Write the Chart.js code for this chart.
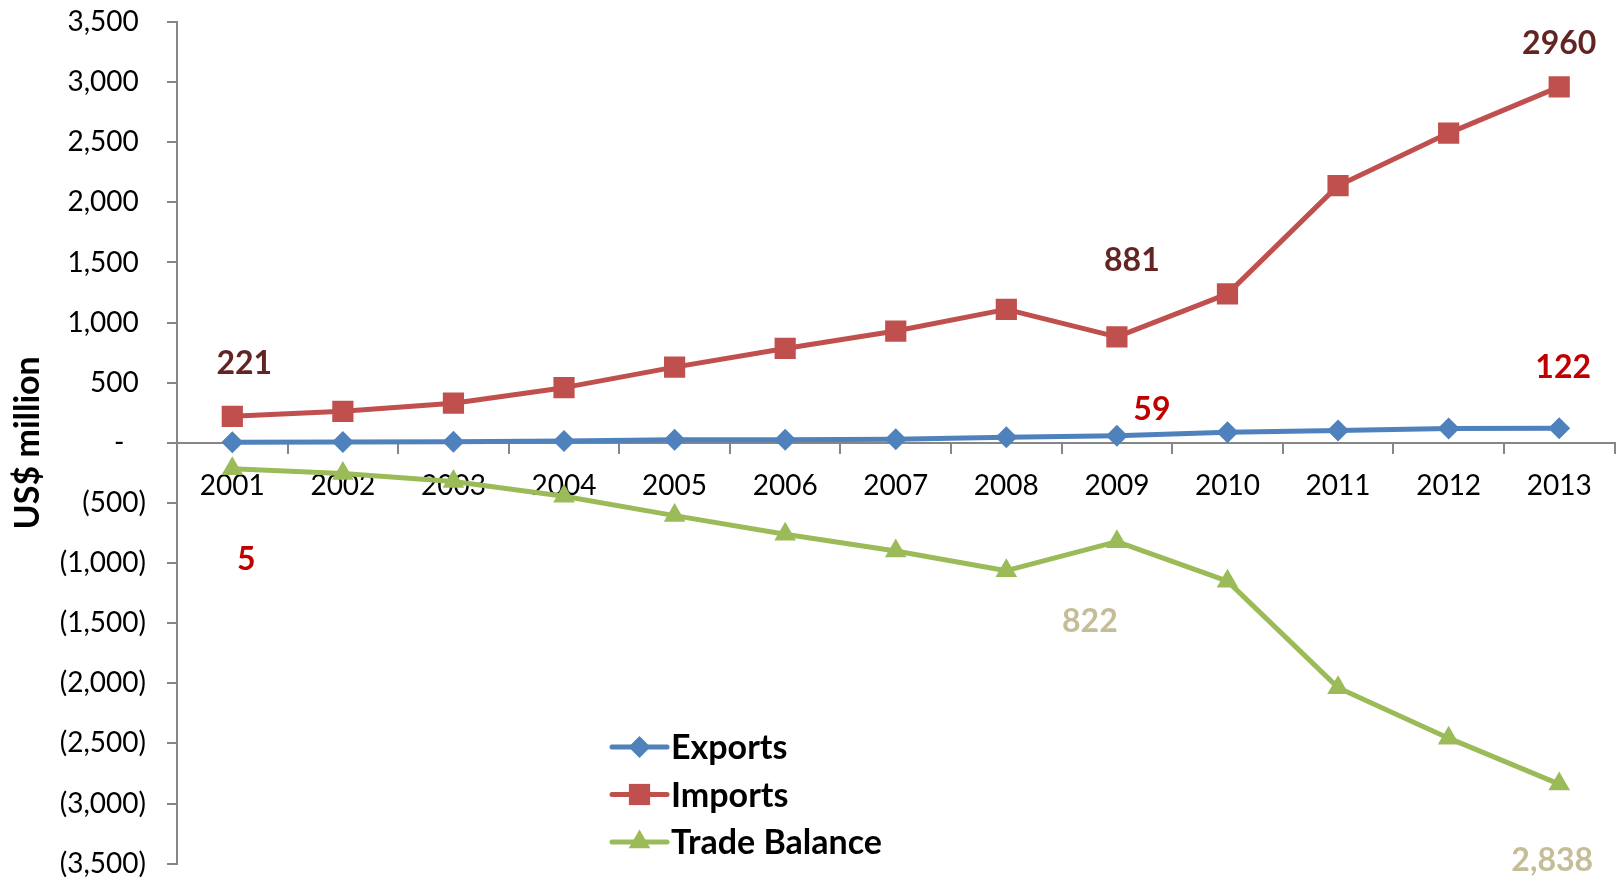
<!DOCTYPE html>
<html>
<head>
<meta charset="utf-8">
<script src="https://cdn.jsdelivr.net/npm/chart.js@4/dist/chart.umd.min.js"></script>
<style>
  html, body { margin: 0; padding: 0; background: #ffffff; overflow: hidden; }
  #wrap { width: 1616px; height: 879px; }
</style>
</head>
<body>
<div id="wrap"><canvas id="c" width="1616" height="879"></canvas></div>
<script>
// Trade figures, US$ million
const years = ['2001', '2002', '2003', '2004', '2005', '2006', '2007', '2008', '2009', '2010', '2011', '2012', '2013'];
const exportsUS = [5, 8, 9, 15, 25, 25, 30, 47, 59, 89, 103, 120, 122];
const importsUS = [221, 262, 330, 459, 630, 785, 930, 1110, 881, 1239, 2139, 2576, 2960];
const tradeBalance = [-216, -254, -321, -444, -605, -760, -900, -1063, -822, -1150, -2036, -2456, -2838];
const seriesNames = ['Exports', 'Imports', 'Trade Balance'];

// Value axis range
const yMin = -3500;
const yMax = 3500;
const yStep = 500;

// Which points carry a value label
const labelledPoints = [
  { series: 1, index: 0 },
  { series: 1, index: 8 },
  { series: 1, index: 12 },
  { series: 0, index: 0 },
  { series: 0, index: 8 },
  { series: 0, index: 12 },
  { series: 2, index: 8 },
  { series: 2, index: 12 }
];

const FONT = 'Lato, "Open Sans", "DejaVu Sans", sans-serif';
const COLORS = ['#4F81BD', '#C0504D', '#9BBB59'];
const LABEL_COLORS = ['#C00000', '#632523', '#C4BD97'];
const SHAPES = ['rectRot', 'rect', 'triangle'];
const RADII = [11, 15, 12.5];

// Label placement relative to its point (pixels)
const labelOffsets = {
  '1-0': [12, -54], '1-8': [15, -77], '1-12': [0, -44],
  '0-0': [14, 116], '0-8': [35, -27], '0-12': [4, -62],
  '2-8': [-27, 79], '2-12': [-7, 75]
};

function fmtAxis(v) {
  if (v === 0) return '-   ';
  const s = Math.abs(v).toLocaleString('en-US');
  return v < 0 ? '(' + s + ')' : s + ' ';
}

function fmtLabel(series, v) {
  if (series === 2) return Math.abs(v).toLocaleString('en-US');
  return String(Math.abs(v));
}

function drawMarker(ctx, shape, x, y, r, color) {
  ctx.save();
  ctx.fillStyle = color;
  ctx.beginPath();
  if (shape === 'rectRot') {
    ctx.moveTo(x - r, y); ctx.lineTo(x, y - r); ctx.lineTo(x + r, y); ctx.lineTo(x, y + r);
  } else if (shape === 'rect') {
    const s = Math.SQRT1_2 * r;
    ctx.rect(x - s, y - s, 2 * s, 2 * s);
  } else {
    const h = r * Math.sin(Math.PI / 3);
    ctx.moveTo(x, y - r); ctx.lineTo(x + h, y + r / 2); ctx.lineTo(x - h, y + r / 2);
  }
  ctx.closePath();
  ctx.fill();
  ctx.restore();
}

// Value labels next to selected points
const valueLabels = {
  id: 'valueLabels',
  afterDatasetsDraw(chart) {
    const ctx = chart.ctx;
    ctx.save();
    ctx.font = 'bold 32px ' + FONT;
    ctx.textAlign = 'center';
    ctx.textBaseline = 'alphabetic';
    labelledPoints.forEach(p => {
      const el = chart.getDatasetMeta(p.series).data[p.index];
      const v = chart.data.datasets[p.series].data[p.index];
      const off = labelOffsets[p.series + '-' + p.index];
      ctx.fillStyle = LABEL_COLORS[p.series];
      ctx.fillText(fmtLabel(p.series, v), el.x + off[0], el.y + off[1] + 11.5);
    });
    ctx.restore();
  }
};

// Legend with line + marker samples
const lineLegend = {
  id: 'lineLegend',
  afterDraw(chart) {
    const ctx = chart.ctx;
    const x0 = 612, x1 = 667, textX = 671, top = 747, gap = 47.5;
    ctx.save();
    ctx.font = 'bold 34px ' + FONT;
    ctx.textAlign = 'left';
    ctx.textBaseline = 'alphabetic';
    chart.data.datasets.forEach((ds, i) => {
      const y = top + i * gap;
      ctx.strokeStyle = ds.borderColor;
      ctx.lineWidth = 5;
      ctx.lineCap = 'round';
      ctx.beginPath(); ctx.moveTo(x0, y); ctx.lineTo(x1, y); ctx.stroke();
      drawMarker(ctx, SHAPES[i], (x0 + x1) / 2, y, RADII[i], ds.borderColor);
      ctx.fillStyle = '#000000';
      ctx.fillText(ds.label, textX, y + 12);
    });
    ctx.restore();
  }
};

const seriesData = [exportsUS, importsUS, tradeBalance];
const datasets = seriesData.map((d, i) => ({
  label: seriesNames[i],
  data: d,
  borderColor: COLORS[i],
  backgroundColor: COLORS[i],
  borderWidth: 5,
  tension: 0,
  borderJoinStyle: 'round',
  pointStyle: SHAPES[i],
  pointRadius: RADII[i],
  pointHoverRadius: RADII[i],
  pointBackgroundColor: COLORS[i],
  pointBorderColor: COLORS[i],
  pointBorderWidth: 0
}));

new Chart(document.getElementById('c'), {
  type: 'line',
  data: { labels: years, datasets },
  options: {
    responsive: false,
    animation: false,
    devicePixelRatio: 1,
    events: [],
    layout: { autoPadding: false, padding: { top: 22, right: 1.5, bottom: 15.3, left: 0 } },
    plugins: { legend: { display: false }, tooltip: { enabled: false } },
    scales: {
      x: {
        position: { y: 0 },
        offset: true,
        ticks: { font: { family: FONT, size: 28 }, color: '#000000', padding: 16, maxRotation: 0, autoSkip: false },
        grid: { offset: true, drawOnChartArea: false, drawTicks: true, tickLength: 10, color: '#868686', lineWidth: 2 },
        border: { display: true, color: '#868686', width: 2 },
        afterFit(scale) {
          scale.paddingLeft = 0;
          scale.paddingRight = 0;
        }
      },
      y: {
        min: yMin,
        max: yMax,
        ticks: { stepSize: yStep, font: { family: FONT, size: 28 }, color: '#000000', padding: 21, callback: v => fmtAxis(v) },
        grid: { drawOnChartArea: false, drawTicks: true, tickLength: 10, color: '#868686', lineWidth: 2 },
        border: { display: true, color: '#868686', width: 2 },
        title: { display: true, text: 'US$ million', font: { family: FONT, size: 34, weight: 'bold' }, color: '#000000', padding: { top: 8, bottom: 0 } },
        afterFit(scale) {
          scale.width = 177;
          scale.paddingTop = 0;
          scale.paddingBottom = 0;
        }
      }
    }
  },
  plugins: [valueLabels, lineLegend]
});
</script>
</body>
</html>
